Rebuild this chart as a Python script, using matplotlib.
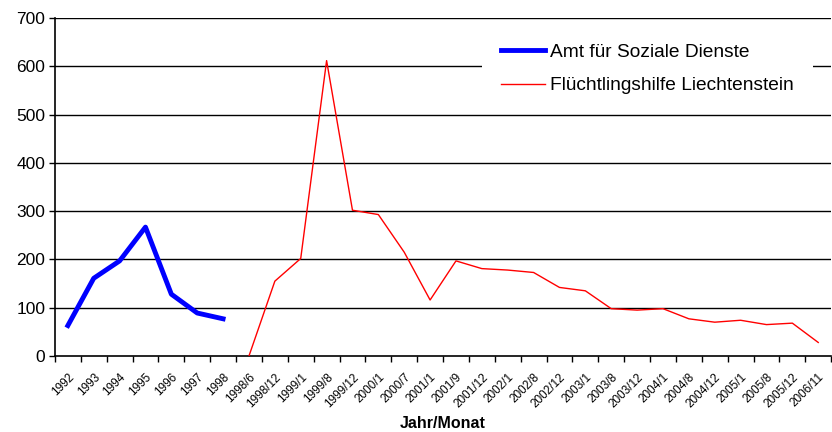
import numpy as np
import matplotlib.pyplot as plt

plt.rcParams['font.family'] = ['Liberation Sans', 'DejaVu Sans']

# category labels (Jahr/Monat)
kategorien = ['1992', '1993', '1994', '1995', '1996', '1997', '1998',
              '1998/6', '1998/12', '1999/1', '1999/8', '1999/12', '2000/1',
              '2000/7', '2001/1', '2001/9', '2001/12', '2002/1', '2002/8',
              '2002/12', '2003/1', '2003/8', '2003/12', '2004/1', '2004/8',
              '2004/12', '2005/1', '2005/8', '2005/12', '2006/11']

# Amt fuer Soziale Dienste (1992-1998)
asd = [63, 161, 197, 267, 128, 89, 77]

# Fluechtlingshilfe Liechtenstein (1998/6-2006/11)
flh = [0, 155, 202, 612, 302, 293, 215, 116, 197, 181, 178, 173, 142,
       135, 98, 95, 98, 77, 70, 74, 65, 68, 28]

x = np.arange(len(kategorien))

fig = plt.figure(figsize=(8.32, 4.32), dpi=100)
ax = fig.add_axes([0.066, 0.176, 0.933, 0.782])

for yv in range(100, 800, 100):
    ax.axhline(yv, color='black', lw=1.0, zorder=1)

ax.plot(x[:len(asd)], asd, color='#0000ff', lw=3.5, label='Amt für Soziale Dienste', zorder=3)
ax.plot(x[len(kategorien) - len(flh):], flh, color='#ff0000', lw=1.0,
        label='Flüchtlingshilfe Liechtenstein', zorder=3)

ax.set_xlim(-0.5, len(kategorien) - 0.5)
ax.set_ylim(0, 700)
ax.set_yticks(range(0, 800, 100))
ax.tick_params(axis='y', labelsize=12.5, length=4, width=1, direction='out', pad=3)

# tick marks between categories, labels under category centres
ax.set_xticks(np.arange(-0.5, len(kategorien), 1.0))
ax.set_xticklabels([])
ax.tick_params(axis='x', which='major', length=4, width=1)
ax.set_xticks(x, minor=True)
ax.set_xticklabels(kategorien, minor=True, rotation=45, ha='right',
                   rotation_mode='anchor', fontsize=8.5)
ax.tick_params(axis='x', which='minor', length=0, pad=11)

for s in ['top', 'right']:
    ax.spines[s].set_visible(False)
ax.spines['left'].set_linewidth(1.2)
ax.spines['bottom'].set_linewidth(1.2)

ax.set_xlabel('Jahr/Monat', fontsize=11.5, fontweight='bold', labelpad=4)

leg = ax.legend(loc='upper left', bbox_to_anchor=(482 / 832, 1 - 24 / 432),
                bbox_transform=fig.transFigure, frameon=True,
                fontsize=13.8, handlelength=2.3, handletextpad=0.25,
                labelspacing=0.85, borderpad=1.0, borderaxespad=0)
leg.get_frame().set_edgecolor('none')
leg.get_frame().set_facecolor('white')
leg.get_frame().set_alpha(1.0)
leg.get_frame().set_boxstyle('square', pad=0)
leg.set_zorder(5)

fig.savefig('out.png', dpi=100)
